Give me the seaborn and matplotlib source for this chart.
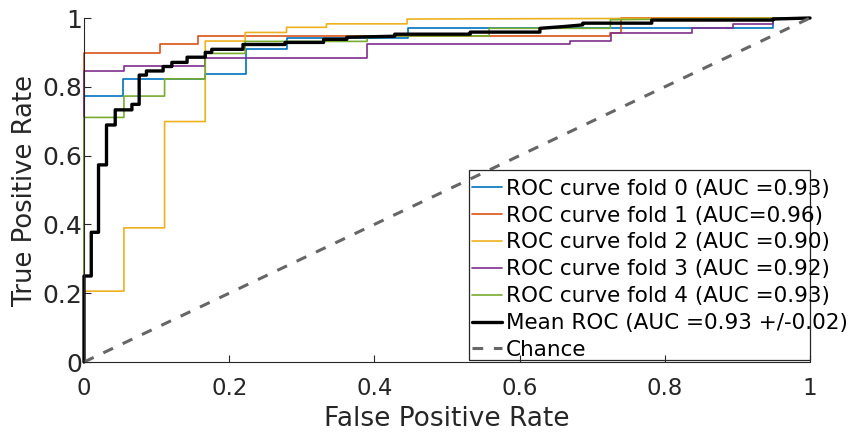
import matplotlib
matplotlib.use('Agg')
import matplotlib.pyplot as plt
import seaborn as sns
import pandas as pd
from matplotlib.patches import Rectangle

# ---------------- data ----------------
fold_labels = ['ROC curve fold 0 (AUC =0.93)', 'ROC curve fold 1 (AUC=0.96)',
               'ROC curve fold 2 (AUC =0.90)', 'ROC curve fold 3 (AUC =0.92)',
               'ROC curve fold 4 (AUC =0.93)']
mean_label = 'Mean ROC (AUC =0.93 +/-0.02)'
chance_label = 'Chance'

fold0_fpr = [0, 0, 0.054, 0.054, 0.167, 0.167, 0.223, 0.223, 0.279, 0.279, 0.446, 0.446, 0.949, 0.949, 1.0]
fold0_tpr = [0, 0.773, 0.773, 0.823, 0.823, 0.836, 0.836, 0.909, 0.909, 0.943, 0.943, 0.970, 0.970, 1.0, 1.0]

fold1_fpr = [0, 0, 0.104, 0.104, 0.157, 0.157, 0.725, 0.725, 0.740, 0.740, 1.0]
fold1_tpr = [0, 0.897, 0.897, 0.924, 0.924, 0.948, 0.948, 0.955, 0.955, 1.0, 1.0]

fold2_fpr = [0, 0, 0.055, 0.055, 0.111, 0.111, 0.167, 0.167, 0.222, 0.222, 0.279, 0.279, 0.334, 0.334, 0.445, 0.445, 1.0]
fold2_tpr = [0, 0.206, 0.206, 0.390, 0.390, 0.699, 0.699, 0.933, 0.933, 0.958, 0.958, 0.973, 0.973, 0.983, 0.983, 0.997, 1.0]

fold3_fpr = [0, 0, 0.055, 0.055, 0.167, 0.167, 0.390, 0.390, 0.670, 0.670, 0.726, 0.726, 0.837, 0.837, 0.894, 0.894, 0.949, 0.949, 1.0]
fold3_tpr = [0, 0.847, 0.847, 0.860, 0.860, 0.885, 0.885, 0.923, 0.923, 0.934, 0.934, 0.957, 0.957, 0.970, 0.970, 0.983, 0.983, 1.0, 1.0]

fold4_fpr = [0, 0, 0.055, 0.055, 0.111, 0.111, 0.167, 0.167, 0.222, 0.222, 0.390, 0.390, 0.558, 0.558, 0.725, 0.725, 1.0]
fold4_tpr = [0, 0.711, 0.711, 0.773, 0.773, 0.823, 0.823, 0.897, 0.897, 0.932, 0.932, 0.948, 0.948, 0.970, 0.970, 0.995, 1.0]

mean_fpr = [0, 0, 0.010, 0.010, 0.020, 0.020, 0.031, 0.031, 0.043, 0.043, 0.066, 0.066, 0.076, 0.076,
            0.086, 0.086, 0.109, 0.109, 0.121, 0.121, 0.142, 0.142, 0.167, 0.167, 0.176, 0.176, 0.219, 0.219,
            0.277, 0.277, 0.330, 0.330, 0.362, 0.362, 0.428, 0.428, 0.532, 0.532, 0.628, 0.628, 0.660,
            0.687, 0.687, 0.782, 0.782, 0.949, 0.949, 1.0]
mean_tpr = [0, 0.250, 0.250, 0.377, 0.377, 0.573, 0.573, 0.689, 0.689, 0.733, 0.733, 0.749, 0.749, 0.834,
            0.834, 0.846, 0.846, 0.859, 0.859, 0.871, 0.871, 0.886, 0.886, 0.900, 0.900, 0.909, 0.909, 0.923,
            0.923, 0.929, 0.929, 0.938, 0.938, 0.944, 0.947, 0.953, 0.953, 0.959, 0.959, 0.970, 0.975,
            0.980, 0.985, 0.985, 0.994, 0.994, 0.997, 1.0]

chance_x = [0, 1]
chance_y = [0, 1]

ticks = [0, 0.2, 0.4, 0.6, 0.8, 1]
tick_labels = ['0', '0.2', '0.4', '0.6', '0.8', '1']

# ---------------- style ----------------
sns.set_style('ticks', {'xtick.direction': 'in', 'ytick.direction': 'in'})
plt.rcParams['font.family'] = ['DejaVu Sans']

fold_colors = ['#0072BD', '#D95319', '#EDB120', '#7E2F8E', '#77AC30']
axis_color = '#262626'

fig = plt.figure(figsize=(8.55, 4.33), dpi=100)
ax = fig.add_axes([84 / 855, 71 / 433, 726 / 855, 344 / 433])

folds = [(fold0_fpr, fold0_tpr), (fold1_fpr, fold1_tpr), (fold2_fpr, fold2_tpr),
         (fold3_fpr, fold3_tpr), (fold4_fpr, fold4_tpr)]
for (f, t), c, lab in zip(folds, fold_colors, fold_labels):
    df = pd.DataFrame({'fpr': f, 'tpr': t})
    sns.lineplot(data=df, x='fpr', y='tpr', sort=False, estimator=None, color=c,
                 linewidth=1.2, label=lab, ax=ax, clip_on=False)

dfm = pd.DataFrame({'fpr': mean_fpr, 'tpr': mean_tpr})
sns.lineplot(data=dfm, x='fpr', y='tpr', sort=False, estimator=None, color='black',
             linewidth=2.4, label=mean_label, ax=ax, clip_on=False)

dfc = pd.DataFrame({'fpr': chance_x, 'tpr': chance_y})
sns.lineplot(data=dfc, x='fpr', y='tpr', sort=False, estimator=None, color='#666666',
             linewidth=2.2, label=chance_label, ax=ax, clip_on=False)
ax.lines[-1].set_dashes((3.5, 3.5))

ax.set_xlim(0, 1)
ax.set_ylim(0, 1)
ax.set_xticks(ticks)
ax.set_xticklabels(tick_labels)
ax.set_yticks(ticks)
ax.set_yticklabels(tick_labels)
ax.tick_params(axis='both', length=5, width=0.8, color=axis_color, labelcolor=axis_color)
ax.tick_params(axis='x', pad=11, labelsize=16.5)
ax.tick_params(axis='y', pad=1.5, labelsize=18)
sns.despine(ax=ax)
for s in ['left', 'bottom']:
    ax.spines[s].set_color(axis_color)
    ax.spines[s].set_linewidth(0.8)

ax.set_xlabel('False Positive Rate', fontsize=19, color=axis_color, labelpad=4)
ax.set_ylabel('True Positive Rate', fontsize=18.6, color=axis_color, labelpad=3)

handles, labels = ax.get_legend_handles_labels()
leg = ax.legend(handles, labels, loc='upper left', bbox_to_anchor=(0.5344, 0.533),
                frameon=False, fontsize=15.5, borderpad=0, borderaxespad=0,
                handlelength=1.4, handletextpad=0.19, labelspacing=0.32)
for t in leg.get_texts():
    t.set_color('black')

ax.add_patch(Rectangle((0.530, 0.006), 0.470, 0.552, transform=ax.transAxes,
                       fill=False, edgecolor=axis_color, linewidth=0.9, clip_on=False, zorder=5))

fig.savefig('out.png', dpi=100)
